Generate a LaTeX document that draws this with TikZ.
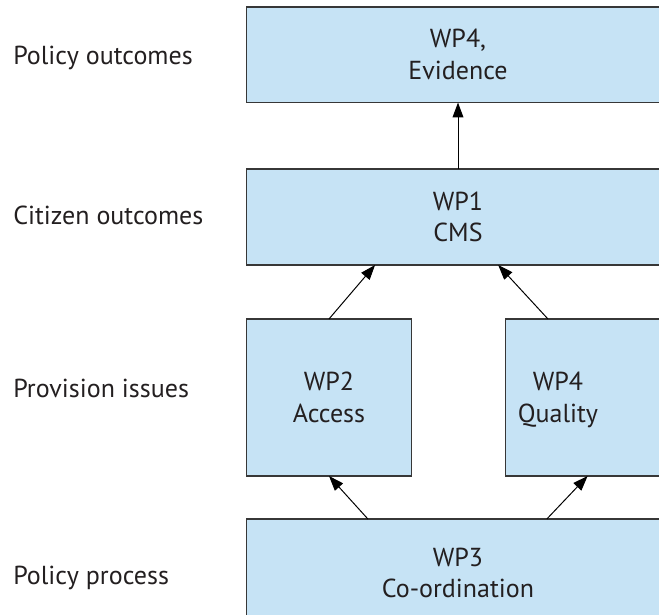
\documentclass[tikz,border=0pt]{standalone}
\usepackage{fontspec}
\setmainfont{PT Sans}
\usetikzlibrary{arrows.meta,calc}

\definecolor{wpfill}{RGB}{198,227,245}
\definecolor{wpline}{RGB}{55,55,55}
\definecolor{wptext}{RGB}{35,31,32}

\tikzset{
    wpbox/.style={draw=wpline, fill=wpfill, line width=1.1pt, inner sep=0pt, outer sep=0pt,
        align=center, text=wptext, font=\fontsize{18.5}{22.6}\selectfont},
    rowlabel/.style={anchor=base west, inner sep=0pt, text=wptext, font=\fontsize{18.5}{22.6}\selectfont},
    uparrow/.style={-{Triangle[length=10.6pt,width=7.7pt]}, line width=0.7pt, black}
}

\begin{document}
\begin{tikzpicture}[x=0.025cm, y=-0.025cm]
                \useasboundingbox (0,0) rectangle (659,615);

                \node[wpbox, minimum width=10.575cm, minimum height=2.39cm] (evid) at (458, 54.75) {WP4,\\Evidence};

                \node[wpbox, minimum width=10.575cm, minimum height=2.4cm] (cms) at (458, 217) {WP1\\CMS};

                \node[wpbox, minimum width=4.13cm, minimum height=3.925cm] (access) at (329, 397.5) {WP2\\Access};

                \node[wpbox, minimum width=4.095cm, minimum height=3.925cm] (quality) at (587.6, 397.5) {};
                \node[wpbox, draw=none, fill=none] (qualitytxt) at (558, 400) {WP4\\Quality};

                \node[wpbox, minimum width=10.575cm, minimum height=2.7cm] (coord) at (458, 573) {WP3\\Co-ordination};

                \node[rowlabel] (lblpolicy) at (13, 65) {Policy outcomes};
                \node[rowlabel] (lblcitizen) at (13, 225) {Citizen outcomes};
                \node[rowlabel] (lblprovision) at (13, 398) {Provision issues};
                \node[rowlabel] (lblprocess) at (13, 585) {Policy process};

                \draw[uparrow] (cms.north) -- (evid.south);

                \draw[uparrow] (access.north) -- ($(cms.south west)!0.304!(cms.south east)$);

                \draw[uparrow] ($(quality.north west)!0.258!(quality.north east)$) -- ($(cms.south west)!0.595!(cms.south east)$);

                \draw[uparrow] ($(coord.north west)!0.287!(coord.north east)$) -- (access.south);

                \draw[uparrow] ($(coord.north west)!0.710!(coord.north east)$) -- (quality.south);
            \end{tikzpicture}
\end{document}
